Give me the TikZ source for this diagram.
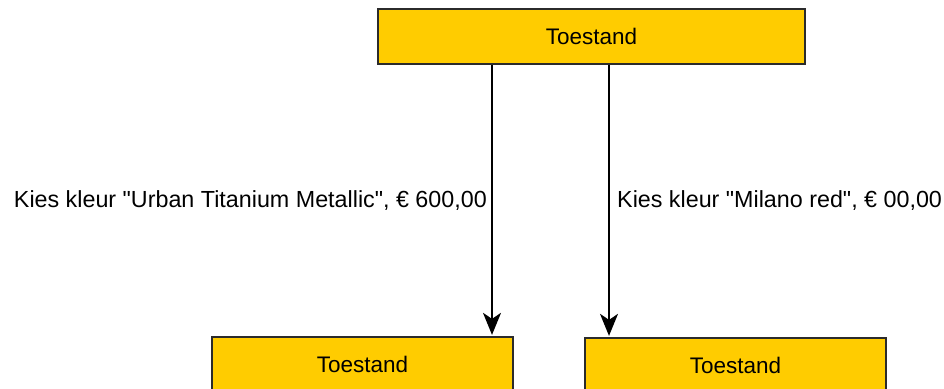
\documentclass[tikz,border=0pt]{standalone}
\usepackage{fontspec}
\setmainfont{Liberation Sans}[Ligatures=TeXOff]
\usetikzlibrary{arrows.meta}
\definecolor{boxfill}{HTML}{FFCC00}
\definecolor{boxline}{HTML}{2B2B2B}
\tikzset{
  state/.style={draw=boxline, fill=boxfill, line width=1.3pt, rectangle, inner sep=0pt, font=\fontsize{22.5}{26}\selectfont},
  conn/.style={draw=black, line width=1.4pt, -{Stealth[length=22pt,width=18pt,inset=6pt]}, shorten >=1.5pt},
  lbl/.style={inner sep=0pt, font=\fontsize{23.3}{27}\selectfont}
}
\begin{document}
\begin{tikzpicture}[x=1pt,y=-1pt]
\useasboundingbox (0,0) rectangle (944,388);
\node[state, minimum width=427pt, minimum height=55pt] (top) at (591.5,36.5) {Toestand};
\node[state, minimum width=301pt, minimum height=55pt] (bl) at (362.5,364.5) {Toestand};
\node[state, minimum width=301pt, minimum height=55pt] (br) at (735.5,365.5) {Toestand};
\coordinate (a1) at (492,0);
\coordinate (a2) at (609,0);
\draw[conn] (top.south -| a1) -- (bl.north -| a1);
\draw[conn] (top.south -| a2) -- (br.north -| a2);
\node[lbl, anchor=east] (l1) at (487,201) {Kies kleur "Urban Titanium Metallic", € 600,00};
\node[lbl, anchor=west] (l2) at (617,201) {Kies kleur "Milano red", € 00,00};
\end{tikzpicture}
\end{document}
